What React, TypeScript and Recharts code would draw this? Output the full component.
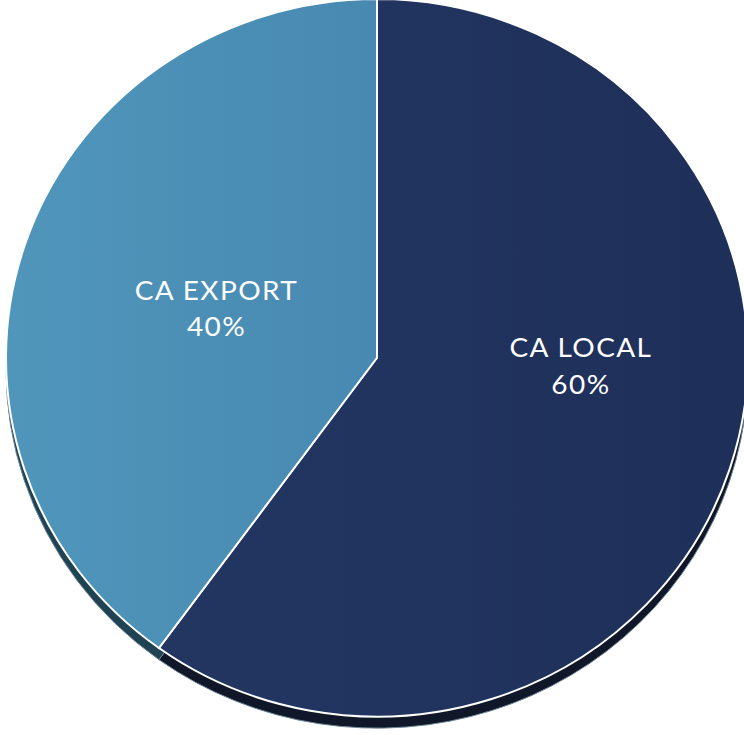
import { PieChart, Pie, Cell } from 'recharts'

const categories = ['CA LOCAL', 'CA EXPORT']
const shares = [60, 40]

const topColors = ['url(#gradLocal)', 'url(#gradExport)']
const sideColors = ['#0f1729', '#1f4352']

const chartData = categories.map((name, i) => ({ name, value: shares[i] }))

const RAD = Math.PI / 180
const FONT = 'Lato, "Open Sans", sans-serif'

// Excel puts the labels a bit off the mid angle, nudge them per slice
const labelSpots = [
  { angle: -2, dist: 0.55 },
  { angle: null as number | null, dist: 0.455 },
]

function renderLabel(props: any) {
  const { cx, cy, midAngle, outerRadius, index, name, percent } = props
  const spot = labelSpots[index]
  const angle = spot.angle ?? midAngle
  const x = cx + outerRadius * spot.dist * Math.cos(-angle * RAD)
  const y = cy + outerRadius * spot.dist * Math.sin(-angle * RAD)
  return (
    <text
      x={x}
      y={y}
      fill="#ffffff"
      textAnchor="middle"
      fontFamily={FONT}
      fontSize={28}
      letterSpacing={1.4}
    >
      <tspan x={x} dy={-8}>
        {name}
      </tspan>
      <tspan x={x} dy={38}>
        {`${Math.round(percent * 100)}%`}
      </tspan>
    </text>
  )
}

export default function App() {
  return (
    <div
      style={{
        position: 'fixed',
        top: 0,
        left: 0,
        width: 744,
        height: 735,
        overflow: 'hidden',
        background: '#fff',
      }}
    >
      <svg width={0} height={0} style={{ position: 'absolute' }}>
        <defs>
          <linearGradient id="gradLocal" x1="0" y1="0" x2="1" y2="0">
            <stop offset="0%" stopColor="#233662" />
            <stop offset="100%" stopColor="#1e3059" />
          </linearGradient>
          <linearGradient id="gradExport" x1="0" y1="0" x2="1" y2="0">
            <stop offset="0%" stopColor="#5096bb" />
            <stop offset="100%" stopColor="#4889b1" />
          </linearGradient>
        </defs>
      </svg>
      <div style={{ transform: 'scaleY(0.967)', transformOrigin: 'top left' }}>
        <PieChart width={760} height={760} margin={{ top: 0, right: 0, bottom: 0, left: 0 }}>
          <Pie
            data={chartData}
            dataKey="value"
            nameKey="name"
            cx={377}
            cy={382}
            outerRadius={371}
            startAngle={90}
            endAngle={-270}
            stroke="#6f8597"
            strokeWidth={1}
            isAnimationActive={false}
            label={false}
            labelLine={false}
          >
            {chartData.map((entry, i) => (
              <Cell key={`side-${entry.name}`} fill={sideColors[i]} />
            ))}
          </Pie>
          <Pie
            data={chartData}
            dataKey="value"
            nameKey="name"
            cx={377}
            cy={370}
            outerRadius={371}
            startAngle={90}
            endAngle={-270}
            stroke="#ffffff"
            strokeWidth={2}
            isAnimationActive={false}
            label={renderLabel}
            labelLine={false}
          >
            {chartData.map((entry, i) => (
              <Cell key={`top-${entry.name}`} fill={topColors[i]} />
            ))}
          </Pie>
        </PieChart>
      </div>
    </div>
  )
}
